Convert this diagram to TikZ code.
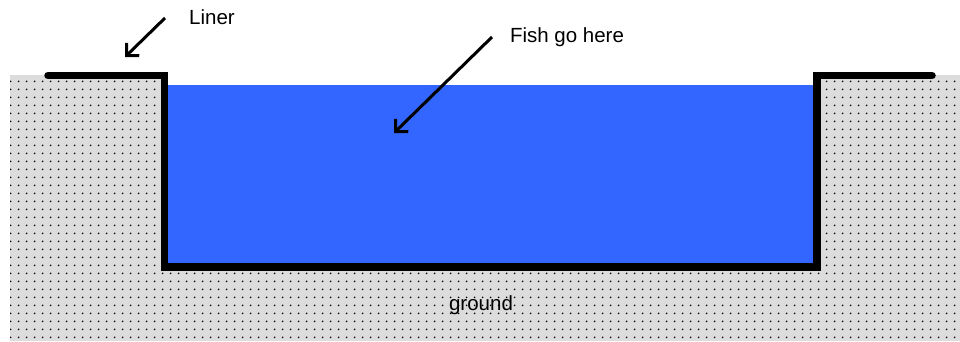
\documentclass[tikz,border=0pt]{standalone}
\usepackage{fontspec}
\setmainfont{Liberation Sans}
\usetikzlibrary{arrows.meta,patterns.meta}
\pgfdeclarepattern{name=sparsedots, type=uncolored,
  bottom left={\pgfpoint{0pt}{0pt}}, top right={\pgfpoint{7.6pt}{7.6pt}},
  tile size={\pgfpoint{7.6pt}{7.6pt}},
  code={\pgfpathcircle{\pgfpoint{3.8pt}{3.8pt}}{0.95pt}\pgfusepath{fill}}}
\definecolor{groundgray}{HTML}{DCDCDC}
\definecolor{water}{HTML}{3366FF}
\tikzset{
  lbl/.style={font=\fontsize{20.5}{24}\selectfont, inner sep=0pt},
  pointer/.style={line width=3pt, -{Straight Barb[length=9pt,width=18pt,line width=3pt]}},
  liner/.style={line width=7.5pt, line cap=round, line join=miter},
  groundfill/.style={fill=groundgray, postaction={pattern={sparsedots}, pattern color=black}},
}
\begin{document}
\begin{tikzpicture}[x=1pt,y=-1pt]
\useasboundingbox (0,0) rectangle (960,341);
% ground
\path[groundfill] (10,75) -- (165,75) -- (165,267) -- (817,267) -- (817,75) -- (960,75) -- (960,341) -- (10,341) -- cycle;
% water
\fill[water] (165,85) rectangle (817,267);
% liner
\draw[liner] (48,75.5) -- (164.5,75.5) -- (164.5,267) -- (817,267) -- (817,75.5) -- (932,75.5);
% labels
\node[lbl] (liner) at (212,17) {Liner};
\node[lbl] (fish) at (567,37) {Fish go here};
\node[lbl] (ground) at (481,305) {ground};
\coordinate (linerA) at (165,18);
\coordinate (linerB) at (125,57);
\coordinate (fishA) at (492,37);
\coordinate (fishB) at (394,133);
\draw[pointer] (linerA) -- (linerB);
\draw[pointer] (fishA) -- (fishB);
\end{tikzpicture}
\end{document}
